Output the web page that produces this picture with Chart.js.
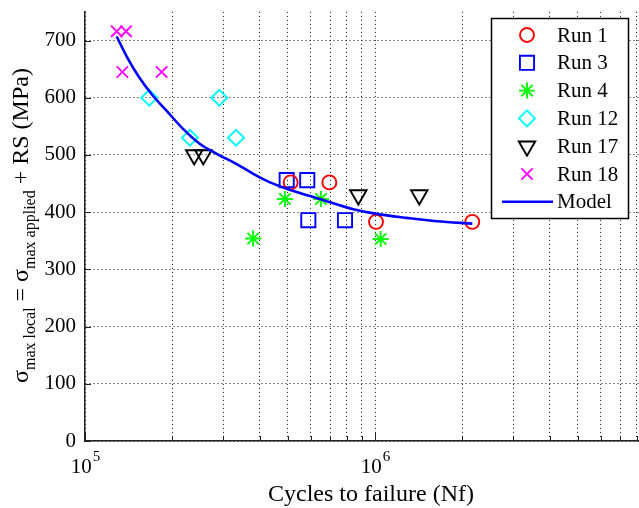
<!DOCTYPE html>
<html>
<head>
<meta charset="utf-8">
<script src="https://cdn.jsdelivr.net/npm/chart.js@4/dist/chart.umd.min.js"></script>
<style>
  html, body { margin: 0; padding: 0; background: #fff; overflow: hidden; }
</style>
</head>
<body>
<canvas id="miGrafica" width="680" height="508"></canvas>
<script>
// cycles to failure (Nf) and local max stress (MPa) per run
let run1Nf = [5.12e5, 6.96e5, 1.008e6, 2.165e6];
let run1Stress = [452, 452, 383, 383];
let run3Nf = [4.96e5, 5.84e5, 5.89e5, 7.88e5];
let run3Stress = [456, 456, 386, 386];
let run4Nf = [3.80e5, 4.89e5, 6.51e5, 1.046e6];
let run4Stress = [354, 423, 423, 353];
let run12Nf = [1.666e5, 2.30e5, 2.905e5, 3.317e5];
let run12Stress = [600, 530, 600, 530];
let run17Nf = [2.38e5, 2.558e5, 8.76e5, 1.421e6];
let run17Stress = [500, 500, 430, 430];
let run18Nf = [1.286e5, 1.385e5, 1.345e5, 1.838e5];
let run18Stress = [716, 716, 645, 645];

// model curve
let modelNf = [1.286e5, 1.393e5, 1.527e5, 1.698e5, 1.913e5, 2.183e5, 2.492e5, 2.846e5, 3.336e5,
               3.805e5, 4.345e5, 4.96e5, 6.46e5, 8.42e5, 1.014e6, 1.286e6, 1.633e6, 2.165e6];
let modelStress = [707, 672, 638, 606, 577, 545, 519, 502, 484, 467, 452, 441, 423, 405, 397, 390, 384, 380];

// axis ticks
let xTicks = [1e5, 2e5, 3e5, 4e5, 5e5, 6e5, 7e5, 8e5, 9e5,
              1e6, 2e6, 3e6, 4e6, 5e6, 6e6, 7e6, 8e6, 9e6, 1e7];
let xLabelExps = [5, 6];
let yTicks = [0, 100, 200, 300, 400, 500, 600, 700];

const serif = "'Liberation Serif', 'Times New Roman', serif";

function pts(xs, ys) {
    return xs.map((v, i) => ({x: v, y: ys[i]}));
}

function runSet(label, xs, ys, style, color, radius, rotation) {
    return {
        label: label,
        data: pts(xs, ys),
        pointStyle: style,
        pointRadius: radius,
        pointRotation: rotation || 0,
        pointBorderColor: color,
        pointBackgroundColor: "rgba(0,0,0,0)",
        pointBorderWidth: 1.9,
        borderColor: color,
        showLine: false,
        order: 1
    };
}

// inward tick marks, like the original axes
const tickMarks = {
    id: "tickMarks",
    beforeDatasetsDraw(chart) {
        const ctx = chart.ctx, a = chart.chartArea;
        const xs = chart.scales.x, ys = chart.scales.y;
        ctx.save();
        ctx.strokeStyle = "#222";
        ctx.lineWidth = 1;
        ctx.beginPath();
        xTicks.forEach(v => {
            const px = Math.round(xs.getPixelForValue(v)) + 0.5;
            const major = Math.abs(Math.log10(v) % 1) < 1e-9;
            ctx.moveTo(px, a.bottom);
            ctx.lineTo(px, a.bottom - (major ? 8 : 5));
        });
        yTicks.forEach(v => {
            const py = Math.round(ys.getPixelForValue(v)) + 0.5;
            ctx.moveTo(a.left, py);
            ctx.lineTo(a.left + 6, py);
        });
        ctx.stroke();
        ctx.restore();
    }
};

// x tick labels with exponents, axis titles and legend box
const extras = {
    id: "extras",
    afterDraw(chart) {
        const ctx = chart.ctx;
        const xs = chart.scales.x;
        ctx.save();
        ctx.fillStyle = "#000";
        ctx.textBaseline = "alphabetic";

        // 10^n labels
        xLabelExps.forEach(e => {
            const px = xs.getPixelForValue(Math.pow(10, e));
            ctx.font = "21px " + serif;
            const w1 = ctx.measureText("10").width;
            ctx.font = "15px " + serif;
            const w2 = ctx.measureText(String(e)).width;
            const x0 = px - (w1 + w2) / 2;
            ctx.font = "21px " + serif;
            ctx.textAlign = "left";
            ctx.fillText("10", x0, 473);
            ctx.font = "15px " + serif;
            ctx.fillText(String(e), x0 + w1 + 1, 461);
        });

        // x title
        ctx.font = "24px " + serif;
        ctx.textAlign = "center";
        ctx.fillText("Cycles to failure (Nf)", 371, 501);

        // y title with subscripts
        const parts = [
            {t: "σ", sub: false},
            {t: "max local", sub: true},
            {t: " = σ", sub: false},
            {t: "max applied", sub: true},
            {t: " + RS (MPa)", sub: false}
        ];
        ctx.translate(28, 383);
        ctx.rotate(-Math.PI / 2);
        ctx.textAlign = "left";
        let cx = 0;
        parts.forEach(p => {
            ctx.font = (p.sub ? "16px " : "24px ") + serif;
            ctx.fillText(p.t, cx, p.sub ? 7 : 0);
            cx += ctx.measureText(p.t).width;
        });
        ctx.setTransform(1, 0, 0, 1, 0, 0);

        // legend
        ctx.fillStyle = "#fff";
        ctx.fillRect(491, 18, 137, 200);
        ctx.strokeStyle = "#000";
        ctx.lineWidth = 1.5;
        ctx.strokeRect(491.5, 18.5, 137, 200);
        chart.data.datasets.forEach((ds, i) => {
            const y = 35 + i * 27.8;
            if (ds.showLine) {
                ctx.strokeStyle = ds.borderColor;
                ctx.lineWidth = ds.borderWidth;
                ctx.beginPath();
                ctx.moveTo(502, y);
                ctx.lineTo(553, y);
                ctx.stroke();
            } else {
                ctx.strokeStyle = ds.pointBorderColor;
                ctx.fillStyle = "rgba(0,0,0,0)";
                ctx.lineWidth = ds.pointBorderWidth;
                Chart.helpers.drawPoint(ctx, {
                    pointStyle: ds.pointStyle,
                    rotation: ds.pointRotation,
                    radius: ds.pointRadius,
                    borderWidth: ds.pointBorderWidth
                }, 527, y);
            }
            ctx.fillStyle = "#000";
            ctx.font = "21px " + serif;
            ctx.textAlign = "left";
            ctx.textBaseline = "middle";
            ctx.fillText(ds.label, 557, y + 1);
        });
        ctx.restore();
    }
};

let miGrafica = document.getElementById("miGrafica").getContext("2d");

var chart = new Chart(miGrafica, {
    type: "scatter",
    data: {
        datasets: [
            runSet("Run 1", run1Nf, run1Stress, "circle", "#ff0000", 7),
            runSet("Run 3", run3Nf, run3Stress, "rect", "#0000ff", 10),
            runSet("Run 4", run4Nf, run4Stress, "star", "#00ff00", 8),
            runSet("Run 12", run12Nf, run12Stress, "rectRot", "#00ffff", 8),
            runSet("Run 17", run17Nf, run17Stress, "triangle", "#000000", 9.5, 180),
            runSet("Run 18", run18Nf, run18Stress, "crossRot", "#ff00ff", 8),
            {
                label: "Model",
                data: pts(modelNf, modelStress),
                showLine: true,
                borderColor: "#0000ff",
                borderWidth: 2.6,
                pointRadius: 0,
                cubicInterpolationMode: "monotone",
                order: -1
            }
        ]
    },
    options: {
        responsive: false,
        animation: false,
        layout: {padding: {left: 0, top: 9, right: 15, bottom: 0}},
        plugins: {legend: {display: false}, tooltip: {enabled: false}},
        scales: {
            x: {
                type: "logarithmic",
                min: 1e5,
                max: 1e7,
                afterBuildTicks: s => { s.ticks = xTicks.map(v => ({value: v})); },
                afterFit: s => { s.height = 67; s.paddingLeft = 0; s.paddingRight = 0; },
                ticks: {display: false},
                grid: {color: "#111", lineWidth: 1, drawTicks: false},
                border: {color: "#222", width: 1.5, dash: [1, 3]}
            },
            y: {
                min: 0,
                max: 750,
                afterBuildTicks: s => { s.ticks = yTicks.map(v => ({value: v})); },
                afterFit: s => { s.width = 85; s.paddingTop = 0; s.paddingBottom = 0; },
                ticks: {color: "#000", padding: 9, font: {family: serif, size: 21}},
                grid: {color: "#111", lineWidth: 1, drawTicks: false},
                border: {color: "#222", width: 1.5, dash: [1, 3]}
            }
        }
    },
    plugins: [tickMarks, extras]
});
</script>
</body>
</html>
